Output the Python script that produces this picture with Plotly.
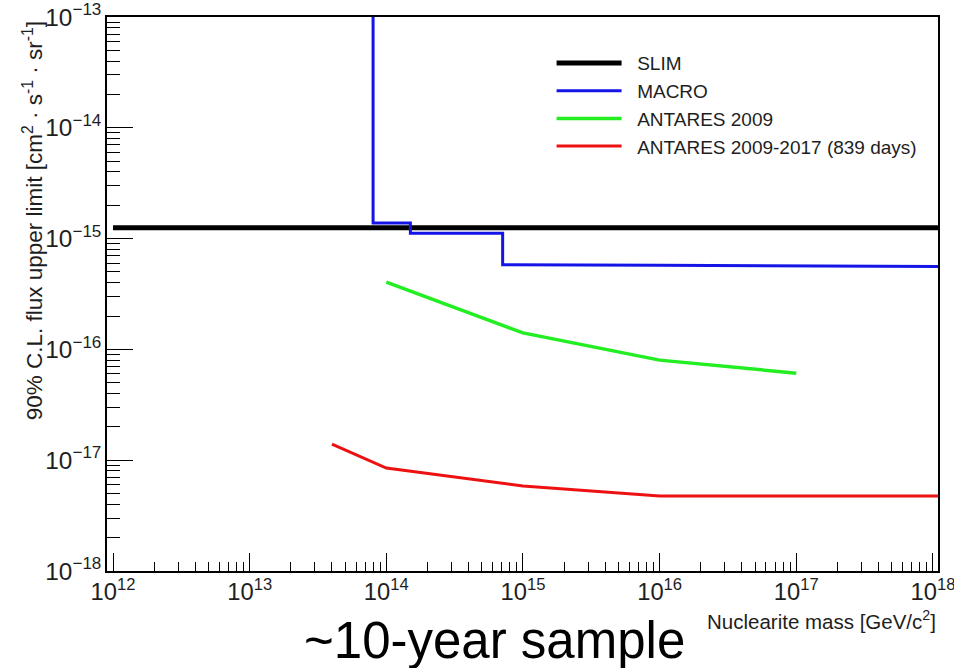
import plotly.graph_objects as go

# ---- data ----
slim_mass = [1e12, 1.09e18]
slim_flux = [1.25e-15, 1.25e-15]

macro_mass = [8.0e13, 8.0e13, 1.5e14, 1.5e14, 7.1e14, 7.1e14, 1e16, 1.09e18]
macro_flux = [1.2e-13, 1.38e-15, 1.38e-15, 1.12e-15, 1.12e-15, 5.8e-16, 5.75e-16, 5.6e-16]

ant09_mass = [1e14, 1e15, 1e16, 1e17]
ant09_flux = [4.05e-16, 1.41e-16, 8.0e-17, 6.1e-17]

ant17_mass = [4e13, 1e14, 1e15, 1e16, 1.09e18]
ant17_flux = [1.4e-17, 8.5e-18, 5.85e-18, 4.75e-18, 4.75e-18]

series = [
    ("SLIM", slim_mass, slim_flux, "#000000", 5),
    ("MACRO", macro_mass, macro_flux, "#1414e6", 3),
    ("ANTARES 2009", ant09_mass, ant09_flux, "#22ee22", 3.5),
    ("ANTARES 2009-2017 (839 days)", ant17_mass, ant17_flux, "#ee1111", 3),
]

FONT = "Liberation Sans, Arial, Helvetica, sans-serif"
TXT = "#1e1e1e"

fig = go.Figure()
for name, x, y, c, w in series:
    fig.add_trace(go.Scatter(x=x, y=y, mode="lines", name="\u00a0\u00a0" + name,
                             line=dict(color=c, width=w)))

fig.update_layout(
    width=954, height=668,
    margin=dict(l=107, r=16, t=17, b=97, autoexpand=False),
    paper_bgcolor="white", plot_bgcolor="white",
    font=dict(family=FONT, color=TXT),
    showlegend=True,
    legend=dict(x=0.535, y=0.951, xanchor="left", yanchor="top",
                font=dict(size=19, family=FONT, color=TXT),
                bgcolor="rgba(0,0,0,0)", tracegroupgap=0, itemwidth=65),
)

fig.update_xaxes(
    type="log", range=[11.956, 18.037], automargin=False,
    showline=True, linecolor="black", linewidth=1.5, mirror=True,
    showgrid=False, zeroline=False,
    ticks="inside", ticklen=18, tickwidth=1, tickcolor="black",
    dtick=1, exponentformat="power", showexponent="all",
    ticklabeloverflow="allow",
    tickfont=dict(size=19, family=FONT, color=TXT),
    minor=dict(ticks="inside", ticklen=9, tickcolor="black", dtick="D1", showgrid=False),
)
fig.update_yaxes(
    type="log", range=[-18, -12.9999], automargin=False,
    showline=True, linecolor="black", linewidth=1.5, mirror=True,
    showgrid=False, zeroline=False,
    ticks="inside", ticklen=26, tickwidth=1, tickcolor="black",
    dtick=1, exponentformat="power", showexponent="all",
    ticklabeloverflow="allow",
    tickfont=dict(size=19.5, family=FONT, color=TXT),
    minor=dict(ticks="inside", ticklen=13, tickcolor="black", dtick="D1", showgrid=False),
)

fig.add_annotation(
    text="90% C.L. flux upper limit [cm<sup>2</sup> · s<sup>-1</sup> · sr<sup>-1</sup>]",
    xref="paper", yref="paper", x=-0.089, y=0.995, xanchor="center", yanchor="top",
    textangle=-90, showarrow=False,
    font=dict(size=22.5, family=FONT, color=TXT),
)
fig.add_annotation(
    text="Nuclearite mass [GeV/c<sup>2</sup>]",
    xref="paper", yref="paper", x=1.0, y=-0.088, xanchor="right", yanchor="middle",
    showarrow=False, font=dict(size=20.5, family=FONT, color=TXT),
)
fig.add_annotation(
    text="~10-year sample",
    xref="paper", yref="paper", x=0.466, y=-0.1255, xanchor="center", yanchor="middle",
    showarrow=False, font=dict(size=51, family=FONT, color="black"),
)

fig.write_html("out.html")
